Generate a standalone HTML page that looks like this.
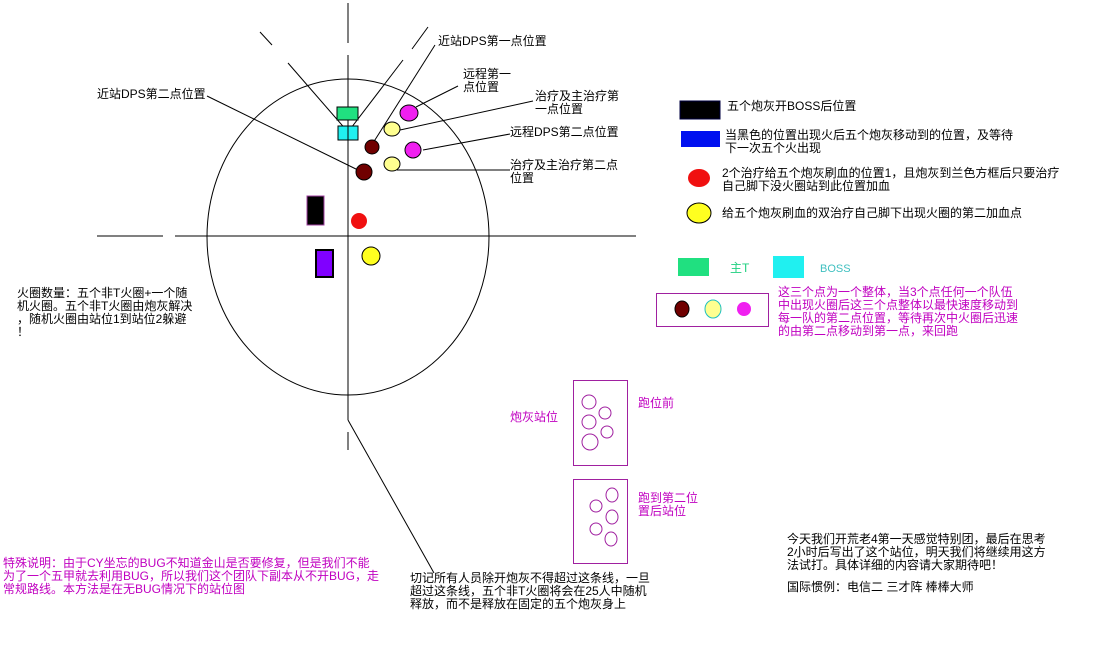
<!DOCTYPE html>
<html><head><meta charset="utf-8"><style>
body{margin:0;width:1105px;height:660px;background:#fff;position:relative;overflow:hidden;font-family:"Liberation Sans","WenQuanYi Zen Hei","Noto Sans CJK SC",sans-serif;font-size:12px;line-height:13px;color:#000}
.t{position:absolute;white-space:nowrap}
.m{color:#c000c0}
</style></head><body>
<svg width="1105" height="660" style="position:absolute;left:0;top:0" stroke="#000" stroke-width="1" fill="none">
<ellipse cx="348" cy="237" rx="141" ry="158"/>
<line x1="348" y1="3" x2="348" y2="43"/>
<line x1="348" y1="55" x2="348" y2="420"/>
<line x1="348" y1="432" x2="348" y2="450"/>
<line x1="97" y1="236" x2="163" y2="236"/>
<line x1="175" y1="236" x2="636" y2="236"/>
<line x1="260" y1="32" x2="272" y2="45"/>
<line x1="288" y1="63" x2="348" y2="132"/>
<line x1="428" y1="27" x2="412" y2="49"/>
<line x1="403" y1="60" x2="348" y2="132"/>
<line x1="373" y1="143" x2="435" y2="45"/>
<line x1="207" y1="96" x2="360" y2="171"/>
<line x1="416" y1="107" x2="458" y2="86"/>
<line x1="400" y1="130" x2="533" y2="101"/>
<line x1="423" y1="150" x2="510" y2="134"/>
<line x1="397" y1="170" x2="510" y2="170"/>
<line x1="348" y1="420" x2="434" y2="573"/>
<rect x="337" y="107" width="21" height="13" fill="#20e080"/>
<rect x="338" y="126" width="20" height="14" fill="#20f0f0"/>
<line x1="348" y1="120" x2="348" y2="140"/>
<ellipse cx="409" cy="113" rx="9" ry="8" fill="#f020f0"/>
<ellipse cx="392" cy="129" rx="8" ry="7" fill="#ffff90"/>
<ellipse cx="372" cy="147" rx="7" ry="7" fill="#700000"/>
<ellipse cx="413" cy="150" rx="8" ry="8" fill="#f020f0"/>
<ellipse cx="364" cy="172" rx="8" ry="8" fill="#700000"/>
<ellipse cx="392" cy="164" rx="8" ry="7" fill="#ffff90"/>
<ellipse cx="359" cy="221" rx="8" ry="8" fill="#f01010" stroke="none"/>
<ellipse cx="371" cy="256" rx="9" ry="9" fill="#ffff20"/>
<rect x="307" y="196" width="17" height="29" fill="#000" stroke="#a040a0"/>
<rect x="316" y="250" width="17" height="27" fill="#8000ff" stroke="#000" stroke-width="2"/>
<rect x="680" y="101" width="40" height="18" fill="#000" stroke="#000040"/>
<rect x="681" y="131" width="39" height="16" fill="#0010f0" stroke="none"/>
<ellipse cx="699" cy="178" rx="11" ry="9" fill="#f01010" stroke="none"/>
<ellipse cx="699" cy="213" rx="12" ry="10" fill="#ffff20"/>
<rect x="678" y="258" width="31" height="18" fill="#20e080" stroke="none"/>
<rect x="773" y="256" width="31" height="22" fill="#20f0f0" stroke="none"/>
<rect x="656.5" y="293.5" width="112" height="33" stroke="#a020a0"/>
<ellipse cx="682" cy="309" rx="7" ry="8" fill="#700000"/>
<ellipse cx="713" cy="309" rx="8" ry="9" fill="#ffff90" stroke="#20c0c0"/>
<ellipse cx="744" cy="309" rx="7" ry="7" fill="#f020f0" stroke="none"/>
<g stroke="#a020a0">
<rect x="573.5" y="380.5" width="54" height="85"/>
<rect x="573.5" y="479.5" width="54" height="84"/>
<circle cx="589" cy="402" r="7"/><circle cx="605" cy="413" r="6"/><circle cx="589" cy="422" r="7"/><circle cx="607" cy="432" r="6"/><circle cx="590" cy="442" r="8"/>
<ellipse cx="612" cy="495" rx="6" ry="7"/><circle cx="596" cy="506" r="6"/><ellipse cx="612" cy="517" rx="6" ry="7"/><circle cx="596" cy="529" r="6"/><ellipse cx="611" cy="539" rx="6" ry="7"/>
</g>
</svg>
<div class="t" style="left:97px;top:88px">近站DPS第二点位置</div>
<div class="t" style="left:438px;top:35px">近站DPS第一点位置</div>
<div class="t" style="left:463px;top:68px">远程第一<br>点位置</div>
<div class="t" style="left:535px;top:90px">治疗及主治疗第<br>一点位置</div>
<div class="t" style="left:510px;top:126px">远程DPS第二点位置</div>
<div class="t" style="left:510px;top:159px">治疗及主治疗第二点<br>位置</div>
<div class="t" style="left:727px;top:100px">五个炮灰开BOSS后位置</div>
<div class="t" style="left:725px;top:129px">当黑色的位置出现火后五个炮灰移动到的位置，及等待<br>下一次五个火出现</div>
<div class="t" style="left:722px;top:167px">2个治疗给五个炮灰刷血的位置1，且炮灰到兰色方框后只要治疗<br>自己脚下没火圈站到此位置加血</div>
<div class="t" style="left:722px;top:207px">给五个炮灰刷血的双治疗自己脚下出现火圈的第二加血点</div>
<div class="t" style="left:730px;top:262px;color:#20d080">主T</div>
<div class="t" style="left:820px;top:263px;color:#40c0c0;font-size:11px">BOSS</div>
<div class="t m" style="left:778px;top:286px">这三个点为一个整体，当3个点任何一个队伍<br>中出现火圈后这三个点整体以最快速度移动到<br>每一队的第二点位置，等待再次中火圈后迅速<br>的由第二点移动到第一点，来回跑</div>
<div class="t" style="left:17px;top:287px">火圈数量：五个非T火圈+一个随<br>机火圈。五个非T火圈由炮灰解决<br>，随机火圈由站位1到站位2躲避<br>！</div>
<div class="t m" style="left:510px;top:411px">炮灰站位</div>
<div class="t m" style="left:638px;top:397px">跑位前</div>
<div class="t m" style="left:638px;top:492px">跑到第二位<br>置后站位</div>
<div class="t m" style="left:3px;top:557px">特殊说明：由于CY坐忘的BUG不知道金山是否要修复，但是我们不能<br>为了一个五甲就去利用BUG，所以我们这个团队下副本从不开BUG，走<br>常规路线。本方法是在无BUG情况下的站位图</div>
<div class="t" style="left:410px;top:572px">切记所有人员除开炮灰不得超过这条线，一旦<br>超过这条线，五个非T火圈将会在25人中随机<br>释放，而不是释放在固定的五个炮灰身上</div>
<div class="t" style="left:787px;top:533px">今天我们开荒老4第一天感觉特别团，最后在思考<br>2小时后写出了这个站位，明天我们将继续用这方<br>法试打。具体详细的内容请大家期待吧！</div>
<div class="t" style="left:787px;top:581px">国际惯例：电信二 三才阵 棒棒大师</div>
</body></html>
